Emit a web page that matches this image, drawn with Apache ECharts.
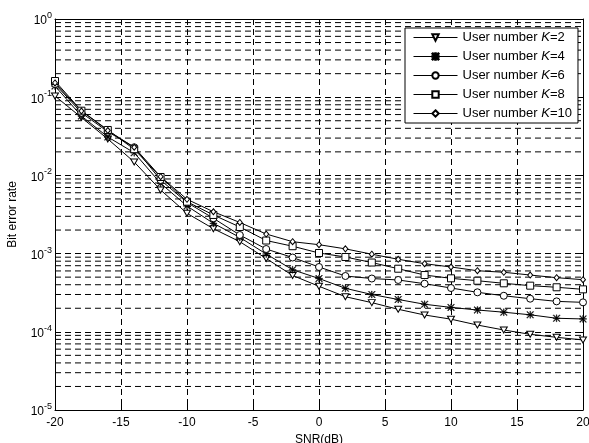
<!DOCTYPE html>
<html>
<head>
<meta charset="utf-8">
<title>Bit error rate vs SNR</title>
<script src="https://cdn.jsdelivr.net/npm/echarts@6/dist/echarts.min.js"></script>
<style>
  html, body { margin: 0; padding: 0; background: #fff; }
  #chart { width: 589px; height: 443px; }
</style>
</head>
<body>
<div id="chart"></div>
<script>
// SNR sweep (dB)
const snrDb = [-20, -18, -16, -14, -12, -10, -8, -6, -4, -2, 0, 2, 4, 6, 8, 10, 12, 14, 16, 18, 20];

// Bit error rate per user count
const berK2 = [0.1036, 0.0550, 0.0292, 0.01484, 0.00651, 0.003275, 0.002082, 0.001420, 8.66e-4, 5.25e-4, 3.82e-4,
               2.81e-4, 2.36e-4, 1.94e-4, 1.64e-4, 1.45e-4, 1.22e-4, 1.054e-4, 9.29e-5, 8.50e-5, 7.86e-5];
const berK4 = [0.139, 0.0575, 0.0310, 0.0195, 0.00792, 0.00406, 0.00244, 0.00161, 9.88e-4, 6.22e-4, 4.80e-4,
               3.60e-4, 3.00e-4, 2.59e-4, 2.25e-4, 2.05e-4, 1.90e-4, 1.78e-4, 1.65e-4, 1.49e-4, 1.46e-4];
const berK6 = [0.1475, 0.0633, 0.0362, 0.0229, 0.00873, 0.00450, 0.00283, 0.00173, 0.001145, 8.91e-4, 6.74e-4,
               5.17e-4, 4.80e-4, 4.60e-4, 4.12e-4, 3.63e-4, 3.20e-4, 2.89e-4, 2.65e-4, 2.45e-4, 2.38e-4];
const berK8 = [0.161, 0.0672, 0.0381, 0.0216, 0.00954, 0.00461, 0.00312, 0.00219, 0.00147, 0.001243, 0.001018,
               9.05e-4, 7.69e-4, 6.41e-4, 5.32e-4, 4.83e-4, 4.50e-4, 4.17e-4, 3.89e-4, 3.71e-4, 3.49e-4];
const berK10 = [0.152, 0.0666, 0.0375, 0.0229, 0.00963, 0.00495, 0.00343, 0.00250, 0.00178, 0.00142, 0.00130,
                0.00115, 9.82e-4, 8.46e-4, 7.43e-4, 6.74e-4, 6.04e-4, 5.77e-4, 5.32e-4, 4.92e-4, 4.64e-4];

const seriesNames = ['User number K=2', 'User number K=4', 'User number K=6', 'User number K=8', 'User number K=10'];

// log-axis minor grid: 2..9 times each decade from 1e-5 to 1e-1
const decades = [1e-5, 1e-4, 1e-3, 1e-2, 1e-1];
const minorSteps = [2, 3, 4, 5, 6, 7, 8, 9];

const FONT = '"Liberation Sans", Arial, Helvetica, sans-serif';
const DASH = [6, 4];
const X_MIN = -20, X_MAX = 20;

const minorLevels = [];
decades.forEach(d => minorSteps.forEach(m => minorLevels.push(+(d * m).toPrecision(3))));

// asterisk marker: vertical, horizontal and two diagonal bars
const STAR = 'path://M4.5,0L5.5,0L5.5,10L4.5,10Z M0,4.5L10,4.5L10,5.5L0,5.5Z M0.8,0L10,9.2L9.2,10L0,0.8Z M9.2,0L10,0.8L0.8,10L0,9.2Z';

const markerStyles = [
  { symbol: 'triangle', symbolSize: [7, 6], symbolRotate: 180, fill: '#fff' },
  { symbol: STAR, symbolSize: 7, symbolRotate: 0, fill: '#000' },
  { symbol: 'circle', symbolSize: 7, symbolRotate: 0, fill: '#fff' },
  { symbol: 'rect', symbolSize: 7, symbolRotate: 0, fill: '#fff' },
  { symbol: 'diamond', symbolSize: [5, 6], symbolRotate: 0, fill: '#fff' }
];

const berSets = [berK2, berK4, berK6, berK8, berK10];

const dataSeries = berSets.map((arr, k) => ({
  name: seriesNames[k],
  type: 'line',
  z: 3,
  data: snrDb.map((x, i) => [x, arr[i]]),
  symbol: markerStyles[k].symbol,
  symbolSize: markerStyles[k].symbolSize,
  symbolRotate: markerStyles[k].symbolRotate,
  showAllSymbol: true,
  lineStyle: { color: '#000', width: 1 },
  itemStyle: { color: markerStyles[k].fill, borderColor: '#000', borderWidth: k === 1 ? 0.4 : 1 },
  emphasis: { disabled: true }
}));

// dashed minor grid lines of the log axis, one flat line per level
const gridSeries = minorLevels.map(v => ({
  name: 'minor ' + v,
  type: 'line',
  z: 1,
  silent: true,
  symbol: 'none',
  data: [[X_MIN, v], [X_MAX, v]],
  lineStyle: { type: DASH, color: '#000', width: 1 },
  emphasis: { disabled: true }
}));

const chart = echarts.init(document.getElementById('chart'), null, { renderer: 'canvas' });

const yLabel = v => {
  const e = Math.round(Math.log10(v));
  return '{b|10}{s|' + e + '}';
};

chart.setOption({
  animation: false,
  backgroundColor: '#fff',
  textStyle: { fontFamily: FONT },
  grid: { left: 55, right: 6, top: 19, bottom: 33, containLabel: false, outerBoundsMode: 'none' },
  legend: {
    data: seriesNames,
    z: 20,
    zlevel: 0,
    orient: 'vertical',
    left: 405,
    top: 28,
    padding: [3, 6, 3, 8],
    itemWidth: 44,
    itemHeight: 8,
    itemGap: 6,
    backgroundColor: '#fff',
    borderColor: '#000',
    borderWidth: 1,
    borderRadius: 0,
    selectedMode: false,
    lineStyle: { width: 1, color: '#000' },
    textStyle: {
      fontFamily: FONT, fontSize: 13, color: '#000',
      rich: { i: { fontFamily: FONT, fontSize: 13, fontStyle: 'italic', color: '#000' } }
    },
    formatter: name => name.replace('K', '{i|K}')
  },
  xAxis: [{
    type: 'value',
    min: X_MIN, max: X_MAX, interval: 5,
    name: 'SNR(dB)',
    nameLocation: 'middle',
    nameGap: 19,
    nameTextStyle: { fontFamily: FONT, fontSize: 12, color: '#000' },
    axisLine: { show: true, onZero: false, lineStyle: { color: '#000', width: 1 } },
    axisTick: { show: true, inside: true, length: 5, lineStyle: { color: '#000' } },
    axisLabel: { margin: 7, fontFamily: FONT, fontSize: 12, color: '#000' },
    splitLine: { show: true, lineStyle: { type: DASH, color: '#000', width: 1 } }
  }, {
    type: 'value',
    position: 'top',
    min: X_MIN, max: X_MAX, interval: 5,
    axisLine: { show: true, onZero: false, lineStyle: { color: '#000', width: 1 } },
    axisTick: { show: true, inside: true, length: 5, lineStyle: { color: '#000' } },
    axisLabel: { show: false },
    splitLine: { show: false }
  }],
  yAxis: [{
    type: 'log',
    logBase: 10,
    min: 1e-5, max: 1,
    splitNumber: 5,
    name: 'Bit error rate',
    nameLocation: 'middle',
    nameGap: 36,
    nameTextStyle: { fontFamily: FONT, fontSize: 12, color: '#000' },
    axisLine: { show: true, onZero: false, lineStyle: { color: '#000', width: 1 } },
    axisTick: { show: true, inside: true, length: 5, lineStyle: { color: '#000' } },
    axisLabel: {
      margin: 3,
      formatter: yLabel,
      rich: {
        b: { fontFamily: FONT, fontSize: 12, color: '#000', verticalAlign: 'bottom' },
        s: { fontFamily: FONT, fontSize: 9, color: '#000', verticalAlign: 'bottom', padding: [0, 0, 7, 0] }
      }
    },
    splitLine: { show: true, lineStyle: { type: DASH, color: '#000', width: 1 } }
  }, {
    type: 'log',
    logBase: 10,
    position: 'right',
    min: 1e-5, max: 1,
    splitNumber: 5,
    axisLine: { show: true, onZero: false, lineStyle: { color: '#000', width: 1 } },
    axisTick: { show: true, inside: true, length: 5, lineStyle: { color: '#000' } },
    axisLabel: { show: false },
    splitLine: { show: false }
  }],
  series: gridSeries.concat(dataSeries)
});
</script>
</body>
</html>
